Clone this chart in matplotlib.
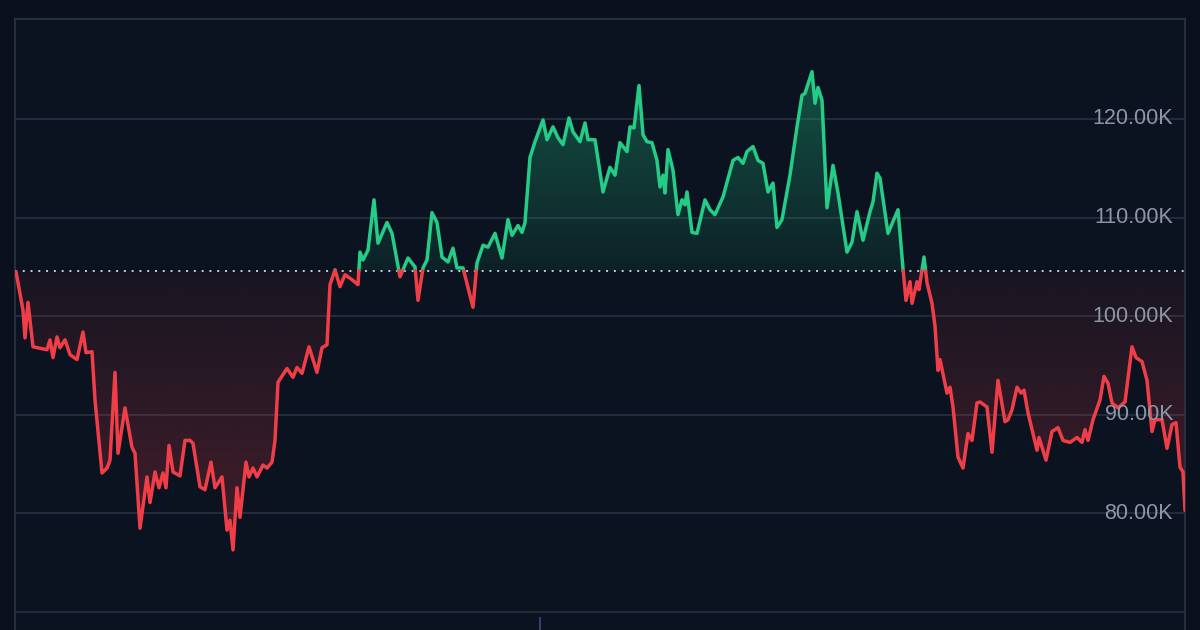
import numpy as np
import matplotlib
matplotlib.use('Agg')
import matplotlib.pyplot as plt

# time positions (left to right) and prices in thousands
t = [16, 23, 25, 28, 33, 47, 50, 53, 57, 60, 65, 70, 77, 83, 86, 92, 95, 102, 107, 110,
     115, 118, 125, 132, 135, 140, 147, 150, 155, 159, 163, 166, 169, 173, 180, 185, 190, 193, 200, 205,
     211, 215, 222, 227, 230, 233, 237, 240, 246, 249, 253, 257, 263, 267, 272, 275, 278, 287, 293, 297,
     302, 309, 317, 322, 327, 330, 335, 340, 345, 352, 358, 360, 363, 368, 374, 378, 387, 392, 400, 408,
     415, 418, 423, 427, 432, 437, 442, 448, 453, 457, 463, 473, 477, 483, 488, 495, 502, 508, 512, 518,
     522, 525, 530, 535, 543, 547, 553, 558, 563, 569, 573, 580, 585, 588, 595, 603, 610, 615, 620, 627,
     630, 634, 639, 643, 647, 652, 657, 660, 663, 665, 668, 673, 678, 682, 685, 687, 692, 697, 705, 710,
     715, 723, 733, 738, 743, 747, 753, 758, 763, 768, 773, 777, 782, 790, 797, 802, 805, 812, 815, 818,
     822, 827, 833, 838, 847, 852, 857, 863, 870, 873, 877, 880, 888, 898, 903, 906, 910, 912, 917, 919,
     924, 927, 932, 935, 938, 940, 947, 950, 953, 958, 963, 968, 972, 977, 980, 987, 992, 998, 1005, 1008,
     1012, 1017, 1021, 1024, 1028, 1037, 1039, 1046, 1052, 1058, 1063, 1070, 1077, 1082, 1085, 1088, 1093, 1100, 1104, 1108,
     1112, 1118, 1125, 1132, 1136, 1142, 1147, 1152, 1155, 1162, 1167, 1172, 1176, 1180, 1183, 1185]
price = [104.5, 100.6, 97.8, 101.4, 96.9, 96.6, 97.6, 95.8, 97.9, 96.8, 97.6, 96.1, 95.6, 98.4, 96.3, 96.4, 91.5, 84.1, 84.6, 85.4,
         94.3, 86.1, 90.7, 86.7, 86.1, 78.5, 83.7, 81.1, 84.2, 82.6, 84.1, 82.6, 86.9, 84.2, 83.8, 87.4, 87.4, 87.1, 82.7, 82.4,
         85.2, 82.6, 83.7, 78.3, 79.3, 76.3, 82.6, 79.6, 85.2, 83.7, 84.6, 83.7, 84.9, 84.6, 85.2, 87.4, 93.3, 94.7, 93.8, 94.8,
         94.2, 96.9, 94.3, 96.8, 97.1, 103.2, 104.7, 103.0, 104.2, 103.7, 103.2, 106.5, 105.7, 106.7, 111.8, 107.4, 109.5, 108.4, 104.0, 105.9,
         105.0, 101.6, 104.9, 105.7, 110.5, 109.5, 106.0, 105.5, 106.9, 104.9, 104.9, 100.9, 105.4, 107.2, 107.0, 108.4, 105.9, 109.8, 108.2, 109.2,
         108.5, 109.5, 116.1, 117.7, 119.9, 117.9, 119.2, 118.1, 117.4, 120.1, 118.7, 117.7, 119.6, 117.9, 117.9, 112.6, 115.1, 114.3, 117.6, 116.7,
         119.2, 119.1, 123.4, 118.4, 117.7, 117.6, 115.8, 113.1, 114.3, 112.5, 116.9, 114.8, 110.3, 111.8, 111.3, 112.6, 108.5, 108.4, 111.8, 110.8,
         110.3, 112.1, 115.8, 116.1, 115.5, 116.7, 117.2, 115.8, 115.5, 112.6, 113.5, 109.0, 109.8, 114.3, 119.2, 122.4, 122.6, 124.8, 121.6, 123.2,
         121.9, 111.0, 115.3, 112.5, 106.5, 107.5, 110.6, 107.7, 110.6, 111.6, 114.5, 114.0, 108.4, 110.8, 104.8, 101.6, 103.5, 101.3, 103.5, 102.7,
         106.0, 103.4, 101.3, 99.0, 94.5, 95.6, 92.2, 92.8, 90.8, 85.7, 84.6, 88.1, 87.4, 91.2, 91.3, 90.8, 86.2, 93.5, 89.3, 89.5,
         90.5, 92.8, 92.2, 92.5, 90.2, 86.4, 87.7, 85.4, 88.3, 88.7, 87.4, 87.2, 87.7, 87.2, 88.5, 87.4, 89.5, 91.5, 93.9, 93.2,
         91.2, 90.7, 91.3, 96.9, 95.8, 95.4, 93.5, 88.3, 89.5, 89.5, 86.6, 89.0, 89.2, 84.7, 84.2, 80.3]
base = 104.6
yticks = [80, 90, 100, 110, 120]
grid_vals = [70, 80, 90, 100, 110, 120]
xmark = 540

bg = '#0a111c'
axbg = '#0b1320'
green = '#25cc87'
red = '#f03e48'
gridc = '#252e3c'

# insert crossing points so the colour switches exactly on the baseline
tt, pp = [t[0]], [price[0]]
for i in range(1, len(t)):
    a, b = price[i - 1] - base, price[i] - base
    if a * b < 0:
        f = a / (a - b)
        tt.append(t[i - 1] + f * (t[i] - t[i - 1]))
        pp.append(base)
    tt.append(t[i])
    pp.append(price[i])
tt = np.array(tt)
pp = np.array(pp)

ylo, yhi = 70 - 18 / 98.6 * 10, 120 + 100 / 98.6 * 10

fig = plt.figure(figsize=(12, 6.3), dpi=100, facecolor=bg)
ax = fig.add_axes([15 / 1200, 0, 1170 / 1200, 1 - 19 / 630])
ax.set_facecolor(axbg)

for g in grid_vals:
    ax.axhline(g, color=gridc, lw=1.3, zorder=1)

# gradient fills clipped to the area between line and baseline
up_fill = ax.fill_between(tt, base, np.maximum(pp, base), color='none', lw=0)
dn_fill = ax.fill_between(tt, np.minimum(pp, base), base, color='none', lw=0)

n = 256
g_img = np.zeros((n, 1, 4))
g_img[..., :3] = matplotlib.colors.to_rgb(green)
g_img[:, 0, 3] = np.linspace(0.08, 0.36, n)
im1 = ax.imshow(g_img, extent=[15, 1185, base, 126], origin='lower', aspect='auto', zorder=2)
im1.set_clip_path(up_fill.get_paths()[0], transform=ax.transData)

r_img = np.zeros((n, 1, 4))
r_img[..., :3] = matplotlib.colors.to_rgb(red)
r_img[:, 0, 3] = np.linspace(0.26, 0.06, n)
im2 = ax.imshow(r_img, extent=[15, 1185, 75, base], origin='lower', aspect='auto', zorder=2)
im2.set_clip_path(dn_fill.get_paths()[0], transform=ax.transData)

ax.set_xlim(15, 1185)
ax.set_ylim(ylo, yhi)

ax.axhline(base, color='#c9ced8', lw=1.4, ls=(0, (1, 3)), zorder=3)

up = np.where(pp >= base, pp, np.nan)
dn = np.where(pp <= base, pp, np.nan)
ax.plot(tt, up, color=green, lw=2.5, solid_joinstyle='round', solid_capstyle='round', zorder=4)
ax.plot(tt, dn, color=red, lw=2.5, solid_joinstyle='round', solid_capstyle='round', zorder=4)

for v in yticks:
    ax.text(1173, v, '%.2fK' % v, ha='right', va='center', fontsize=15.5,
            color='#8e97a8', family='Liberation Sans', zorder=5)

ax.axvline(xmark, ymin=0, ymax=12 / 611, color='#34406a', lw=1.5)

for s in ['left', 'right', 'top']:
    ax.spines[s].set_color('#2a3342')
    ax.spines[s].set_linewidth(1.3)
ax.spines['bottom'].set_visible(False)
ax.set_xticks([])
ax.set_yticks([])

fig.savefig('out.png', dpi=100, facecolor=bg)
